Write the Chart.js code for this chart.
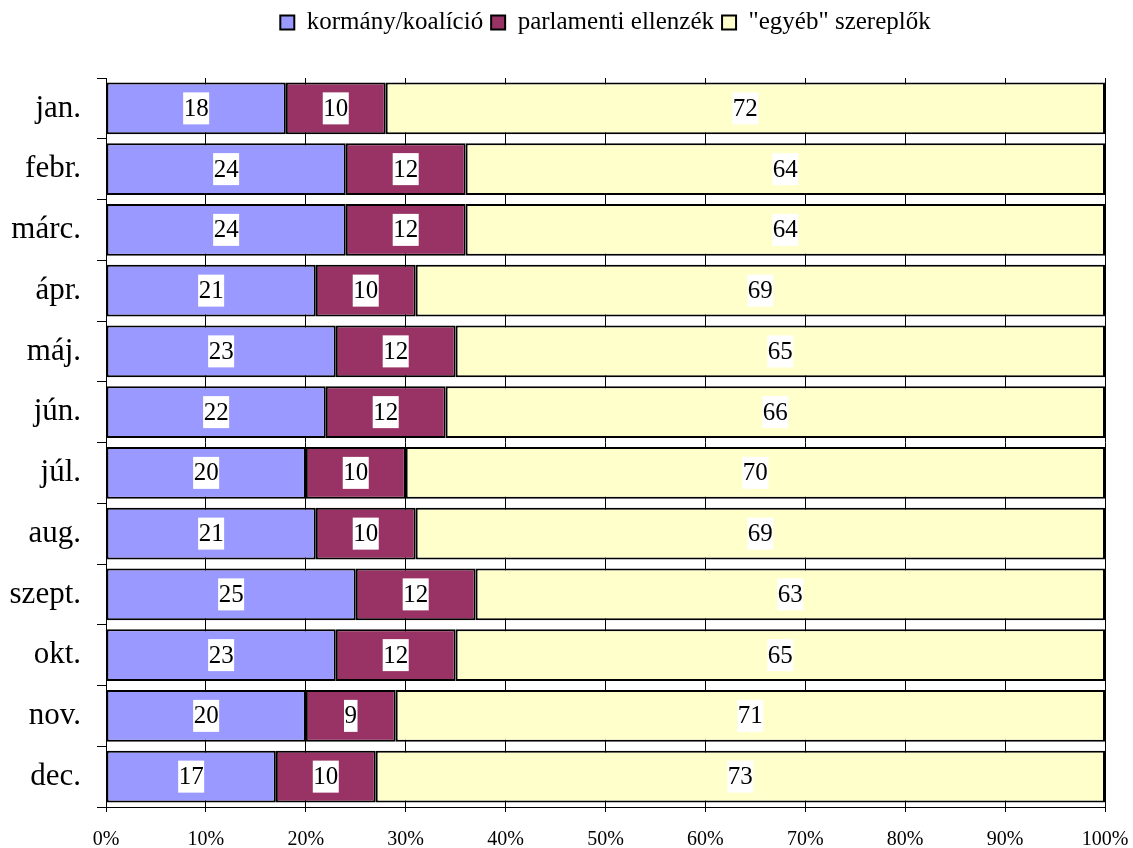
<!DOCTYPE html>
<html>
<head>
<meta charset="utf-8">
<script src="https://cdn.jsdelivr.net/npm/chart.js@4/dist/chart.umd.min.js"></script>
<style>
    html, body { margin: 0; padding: 0; background: #fff; }
    #wrap { width: 1133px; height: 848px; }
</style>
</head>
<body>
<div id="wrap"><canvas id="mediaChart"></canvas></div>
<script>
// Chart data
const months = ['jan.', 'febr.', 'márc.', 'ápr.', 'máj.', 'jún.', 'júl.', 'aug.', 'szept.', 'okt.', 'nov.', 'dec.'];
const seriesNames = ['kormány/koalíció', 'parlamenti ellenzék', '"egyéb" szereplők'];
const govValues = [18, 24, 24, 21, 23, 22, 20, 21, 25, 23, 20, 17];
const oppValues = [10, 12, 12, 10, 12, 12, 10, 10, 12, 12, 9, 10];
const otherValues = [72, 64, 64, 69, 65, 66, 70, 69, 63, 65, 71, 73];
const seriesColors = ['#9999FF', '#993366', '#FFFFCC'];

const serif = '"Liberation Serif", "Times New Roman", serif';

// Extra room under the legend, and centre it over the plot area
const legendSpacer = {
    id: 'legendSpacer',
    beforeInit(chart) {
        const origFit = chart.legend.fit;
        chart.legend.fit = function () {
            origFit.bind(chart.legend)();
            this.height += 33;
        };
    },
    afterLayout(chart) {
        const area = chart.chartArea;
        const shift = (area.left + area.right) / 2 - (chart.legend.left + chart.legend.right) / 2;
        chart.legend.left += shift;
        chart.legend.right += shift;
    }
};

// Value labels in white boxes, centred in every segment
const segmentLabels = {
    id: 'segmentLabels',
    afterDatasetsDraw(chart) {
        const ctx = chart.ctx;
        ctx.save();
        ctx.font = '25px ' + serif;
        ctx.textAlign = 'center';
        ctx.textBaseline = 'middle';
        chart.data.datasets.forEach((ds, i) => {
            const meta = chart.getDatasetMeta(i);
            meta.data.forEach((bar, j) => {
                const text = String(ds.data[j]);
                const cx = (bar.x + bar.base) / 2;
                const cy = bar.y;
                const w = ctx.measureText(text).width + 1;
                const h = 32;
                ctx.fillStyle = '#fff';
                ctx.fillRect(cx - w / 2, cy - h / 2, w, h);
                ctx.fillStyle = '#000';
                ctx.fillText(text, cx, cy + 1);
            });
        });
        ctx.restore();
    }
};

const datasets = [govValues, oppValues, otherValues].map((vals, i) => ({
    label: seriesNames[i],
    data: vals,
    backgroundColor: seriesColors[i],
    borderColor: '#000',
    borderWidth: 2,
    borderSkipped: false,
    barPercentage: 0.85,
    categoryPercentage: 1.0
}));

new Chart(document.getElementById('mediaChart'), {
    type: 'bar',
    data: { labels: months, datasets: datasets },
    options: {
        indexAxis: 'y',
        responsive: true,
        maintainAspectRatio: false,
        animation: false,
        layout: { padding: { top: 2, left: 9, right: 0, bottom: 0 } },
        plugins: {
            tooltip: { enabled: false },
            legend: {
                position: 'top',
                labels: {
                    font: { family: serif, size: 25 },
                    color: '#000',
                    boxWidth: 14,
                    boxHeight: 14,
                    padding: 8,
                    generateLabels(chart) {
                        return chart.data.datasets.map((ds, i) => ({
                            text: ds.label,
                            fillStyle: ds.backgroundColor,
                            strokeStyle: '#000',
                            lineWidth: 2,
                            datasetIndex: i
                        }));
                    }
                }
            }
        },
        scales: {
            x: {
                stacked: true,
                min: 0,
                max: 100,
                afterFit(scale) {
                    scale.height = 41;
                    scale.paddingRight = 28;
                },
                ticks: {
                    stepSize: 10,
                    callback: v => v + '%',
                    font: { family: serif, size: 20 },
                    color: '#000',
                    padding: 16
                },
                grid: { color: '#000', lineWidth: 1, tickLength: 5 },
                border: { color: '#000', width: 1 }
            },
            y: {
                stacked: true,
                afterFit(scale) { scale.width = 97; },
                ticks: {
                    font: { family: serif, size: 31 },
                    color: '#000',
                    padding: 16
                },
                grid: { drawOnChartArea: false, offset: true, color: '#000', tickLength: 9 },
                border: { color: '#000', width: 1 }
            }
        }
    },
    plugins: [legendSpacer, segmentLabels]
});
</script>
</body>
</html>
